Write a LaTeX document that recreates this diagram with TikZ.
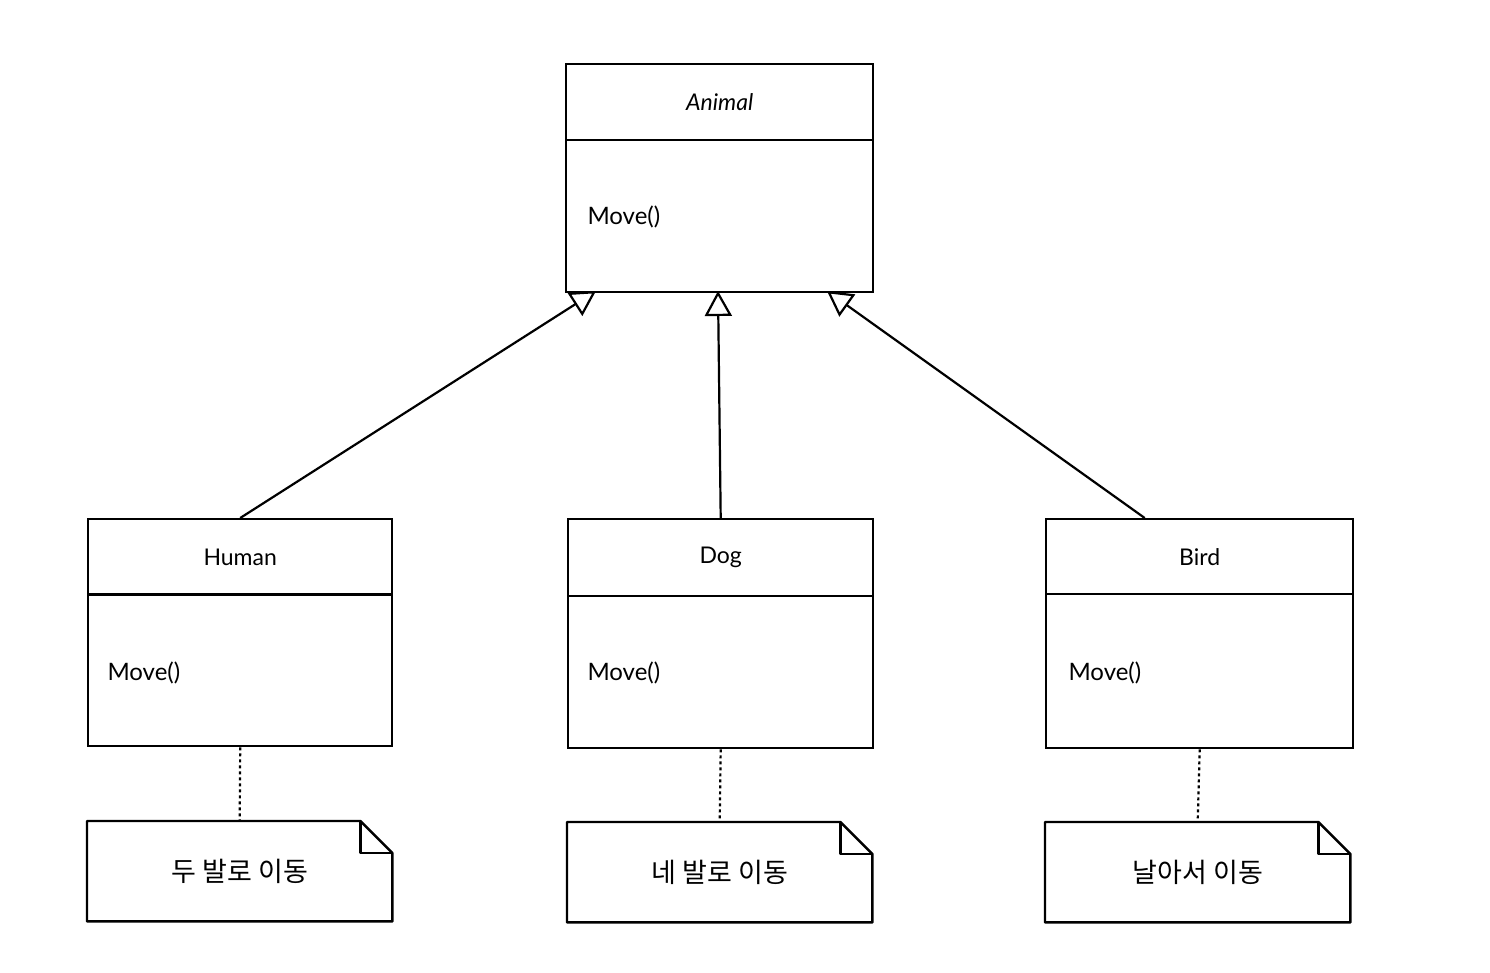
\documentclass[tikz,border=0pt]{standalone}
\usepackage{fontspec}
\setmainfont{Lato}
\newfontfamily\kofont{Noto Sans CJK KR}
\usetikzlibrary{arrows.meta}
\tikzset{
  box/.style={draw, line width=2.4pt, anchor=north west, minimum width=#1, inner sep=0pt, font=\fontsize{23}{26}\selectfont},
  head/.style={box=#1, minimum height=76pt},
  body/.style={box=#1, minimum height=152pt},
  member/.style={anchor=west, font=\fontsize{24}{27}\selectfont},
  inherit/.style={line width=2.2pt, -{Triangle[open, length=25pt, width=27pt, line width=2.2pt]}},
  link/.style={line width=2.2pt, dash pattern=on 3pt off 3pt},
  notebox/.style={anchor=north west, minimum width=305pt, minimum height=100pt, inner sep=0pt, font=\kofont\fontsize{27}{30}\selectfont},
  noteline/.style={line width=2.4pt, line join=round}
}
\newcommand{\notedraw}[1]{%
  \draw[noteline] (#1.north west) -- ([xshift=-32pt]#1.north east) -- ([yshift=-32pt]#1.north east) -- (#1.south east) -- (#1.south west) -- cycle;
  \draw[noteline] ([xshift=-32pt]#1.north east) -- ([xshift=-32pt,yshift=-32pt]#1.north east) -- ([yshift=-32pt]#1.north east);
}
\begin{document}
\begin{tikzpicture}[x=1pt, y=-1pt]
\useasboundingbox (0,0) rectangle (1490,972);
% Animal
\node[head=307pt, font=\itshape\fontsize{23}{26}\selectfont] (animalH) at (565,63) {Animal};
\node[body=307pt] (animalB) at (565,139) {};
\node[member] (animalM) at (584,217) {Move()};
% Human
\node[head=304pt] (humanH) at (87,518) {Human};
\node[body=304pt, minimum height=152pt] (humanB) at (87,593) {};
\node[member] (humanM) at (104,673) {Move()};
% Dog
\node[head=305pt, minimum height=77pt] (dogH) at (567,518) {Dog};
\node[body=305pt] (dogB) at (567,595) {};
\node[member] (dogM) at (584,673) {Move()};
% Bird
\node[head=307pt, minimum height=75pt] (birdH) at (1045,518) {Bird};
\node[body=307pt, minimum height=154pt] (birdB) at (1045,593) {};
\node[member] (birdM) at (1065,673) {Move()};
% inheritance
\coordinate (tipH) at (596,291);
\coordinate (tipD) at (718,291);
\coordinate (tipB) at (827,291);
\draw[inherit] (humanH.north) -- (tipH);
\draw[inherit] (dogH.north) -- (tipD);
\draw[inherit] ([xshift=-55pt]birdH.north) -- (tipB);
% notes
\node[notebox] (humanN) at (87,821) {두 발로 이동};
\node[notebox] (dogN) at (567,822) {네 발로 이동};
\node[notebox] (birdN) at (1045,822) {날아서 이동};
\notedraw{humanN}
\notedraw{dogN}
\notedraw{birdN}
\draw[link] (humanB.south) -- (humanN.north);
\draw[link] (dogB.south) -- (dogN.north);
\draw[link] (birdB.south) -- (birdN.north);
\end{tikzpicture}
\end{document}
